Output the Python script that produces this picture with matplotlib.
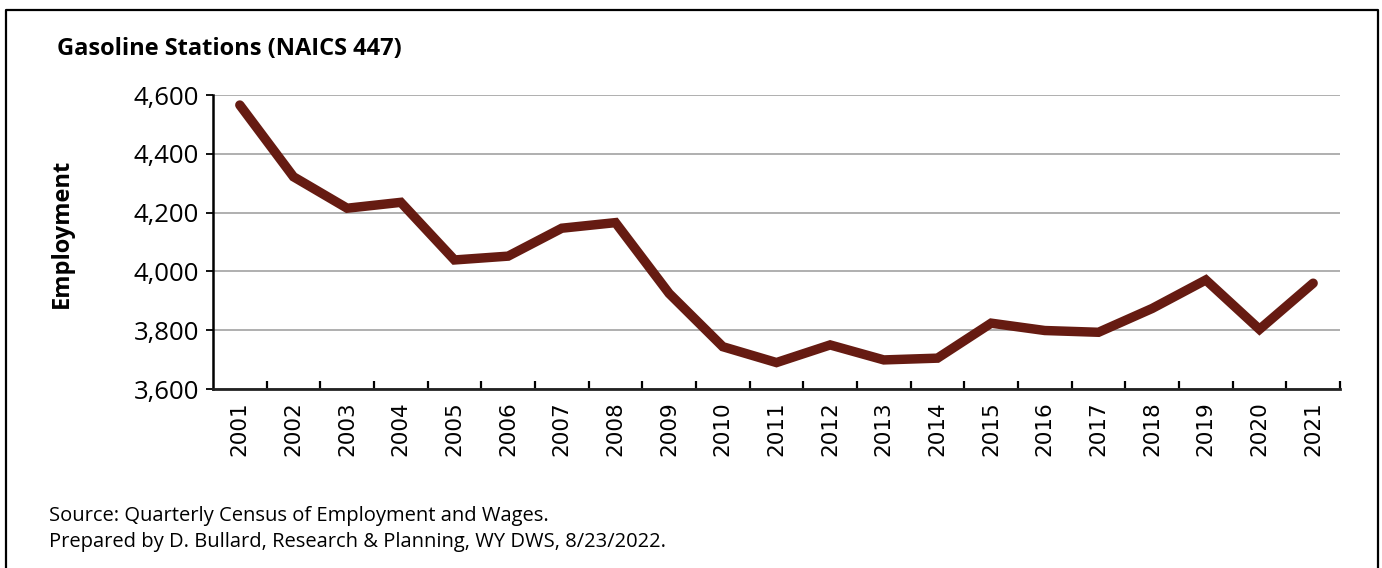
import matplotlib
matplotlib.use("Agg")
import matplotlib.pyplot as plt
from matplotlib.ticker import FuncFormatter, FixedLocator, NullFormatter

years = [str(y) for y in range(2001, 2022)]
employment = [4566, 4322, 4215, 4235, 4039, 4052, 4147, 4166, 3925, 3744,
              3690, 3750, 3699, 3705, 3824, 3799, 3793, 3874, 3971, 3803, 3960]
y_ticks = [3600, 3800, 4000, 4200, 4400, 4600]

title = "Gasoline Stations (NAICS 447)"
y_label = "Employment"
notes = ["Source: Quarterly Census of Employment and Wages.",
         "Prepared by D. Bullard, Research & Planning, WY DWS, 8/23/2022."]

line_color = "#661B12"
text_font = ["Open Sans", "DejaVu Sans"]

fig = plt.figure(figsize=(13.82, 5.68), dpi=100)
ax = fig.add_axes([0.1541, 0.3151, 0.8155, 0.5176])

x = list(range(len(years)))
ax.plot(x, employment, color=line_color, lw=6.8, solid_capstyle="round",
        solid_joinstyle="miter", zorder=3)

ax.set_xlim(-0.5, len(years) - 0.5)
ax.set_ylim(3600, 4600)
ax.set_yticks(y_ticks)
ax.yaxis.set_major_formatter(FuncFormatter(lambda v, p: f"{int(v):,}"))
ax.grid(axis="y", color="#9a9a9a", lw=1.1, zorder=1)
ax.set_axisbelow(True)

# category labels at centers, tick marks at boundaries
ax.set_xticks(x)
ax.set_xticklabels(years, rotation=90, fontsize=15.5, family="DejaVu Sans")
ax.tick_params(axis="x", which="major", length=0, pad=9)
ax.xaxis.set_minor_locator(FixedLocator([i + 0.5 for i in range(len(years))]))
ax.xaxis.set_minor_formatter(NullFormatter())
ax.tick_params(axis="x", which="minor", direction="in", length=6, width=1.6,
               color="black")
ax.tick_params(axis="y", length=5, width=1.3, labelsize=18.5, pad=5)
for lab in ax.get_yticklabels():
    lab.set_family(text_font)

for side in ("top", "right"):
    ax.spines[side].set_visible(False)
ax.spines["left"].set_linewidth(1.8)
ax.spines["bottom"].set_linewidth(2.0)
ax.spines["bottom"].set_color("#222222")

fig.text(0.041, 0.913, title, fontsize=17, fontweight="bold",
         family=text_font, va="center", ha="left")
fig.text(0.045, 0.59, y_label, fontsize=17, fontweight="bold",
         family=text_font, rotation=90, va="center", ha="center")
fig.text(0.0355, 0.092, notes[0], fontsize=14.5, family=text_font, va="center")
fig.text(0.0355, 0.046, notes[1], fontsize=14.5, family=text_font, va="center")

# outer frame (open at the bottom)
fig.add_artist(plt.Line2D([0.0040, 0.0040, 0.9971, 0.9971],
                          [0.0, 0.9824, 0.9824, 0.0],
                          transform=fig.transFigure, color="black", lw=1.6))

fig.savefig("out.png", dpi=100)
